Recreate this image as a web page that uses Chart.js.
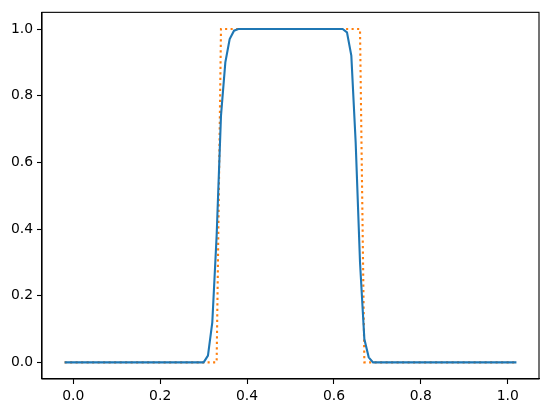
<!DOCTYPE html>
<html>
<head>
<meta charset="utf-8">
<script src="https://cdn.jsdelivr.net/npm/chart.js@4.4.1/dist/chart.umd.min.js"></script>
<style>
    body { margin: 0; background: #fff; }
    #chart { display: block; }
</style>
</head>
<body>
<canvas id="chart" width="547" height="413"></canvas>
<script>
// Numerical solution (blue, solid) - sampled where the curve bends
const numX = [-0.02, 0.30, 0.31, 0.32, 0.33, 0.34, 0.35, 0.36, 0.37, 0.38,
              0.62, 0.63, 0.64, 0.65, 0.66, 0.67, 0.68, 0.69, 1.02];
const numY = [0, 0, 0.02, 0.12, 0.38, 0.74, 0.90, 0.97, 0.995, 1,
              1, 0.99, 0.92, 0.66, 0.30, 0.07, 0.015, 0, 0];

// Exact square pulse (orange, dotted)
const exactX = [-0.02, 0.33, 0.34, 0.66, 0.67, 1.02];
const exactY = [0, 0, 1, 1, 0, 0];

// Tick labels
const xTicks = [0.0, 0.2, 0.4, 0.6, 0.8, 1.0];
const yTicks = [0.0, 0.2, 0.4, 0.6, 0.8, 1.0];

const toPoints = (xs, ys) => xs.map((x, i) => ({ x: x, y: ys[i] }));

// Draw the full box around the plot area (matplotlib style spines)
const frameBox = {
    id: 'frameBox',
    afterDraw(chart) {
        const a = chart.chartArea;
        const c = chart.ctx;
        c.save();
        c.strokeStyle = '#000';
        c.lineWidth = 1.1;
        c.strokeRect(a.left, a.top, a.right - a.left, a.bottom - a.top);
        c.restore();
    }
};

const tickFont = { family: "'DejaVu Sans', sans-serif", size: 13.9 };

new Chart(document.getElementById('chart'), {
    type: 'line',
    data: {
        datasets: [{
            data: toPoints(numX, numY),
            borderColor: '#1f77b4',
            borderWidth: 2.1,
            pointRadius: 0,
            tension: 0,
            fill: false
        }, {
            data: toPoints(exactX, exactY),
            borderColor: '#ff7f0e',
            borderWidth: 2.1,
            borderDash: [2.1, 3.4],
            borderCapStyle: 'butt',
            pointRadius: 0,
            tension: 0,
            fill: false
        }]
    },
    options: {
        responsive: false,
        animation: false,
        layout: { padding: { top: 8, right: 8, left: 0, bottom: 0 } },
        plugins: {
            legend: { display: false },
            tooltip: { enabled: false }
        },
        scales: {
            x: {
                type: 'linear',
                min: -0.072,
                max: 1.072,
                afterBuildTicks: (scale) => { scale.ticks = xTicks.map(v => ({ value: v })); },
                afterFit: (scale) => { scale.height = 34; },
                grid: {
                    drawOnChartArea: false,
                    drawTicks: true,
                    tickLength: 5,
                    tickColor: '#000',
                    tickWidth: 1.1
                },
                border: { display: true, color: '#000', width: 1.1 },
                ticks: {
                    color: '#000',
                    font: tickFont,
                    padding: 4,
                    maxRotation: 0,
                    autoSkip: false,
                    callback: (v) => v.toFixed(1)
                }
            },
            y: {
                min: -0.05,
                max: 1.05,
                afterBuildTicks: (scale) => { scale.ticks = yTicks.map(v => ({ value: v })); },
                afterFit: (scale) => { scale.width = 42; },
                grid: {
                    drawOnChartArea: false,
                    drawTicks: true,
                    tickLength: 5,
                    tickColor: '#000',
                    tickWidth: 1.1
                },
                border: { display: true, color: '#000', width: 1.1 },
                ticks: {
                    color: '#000',
                    font: tickFont,
                    padding: 4,
                    autoSkip: false,
                    callback: (v) => v.toFixed(1)
                }
            }
        }
    },
    plugins: [frameBox]
});
</script>
</body>
</html>
